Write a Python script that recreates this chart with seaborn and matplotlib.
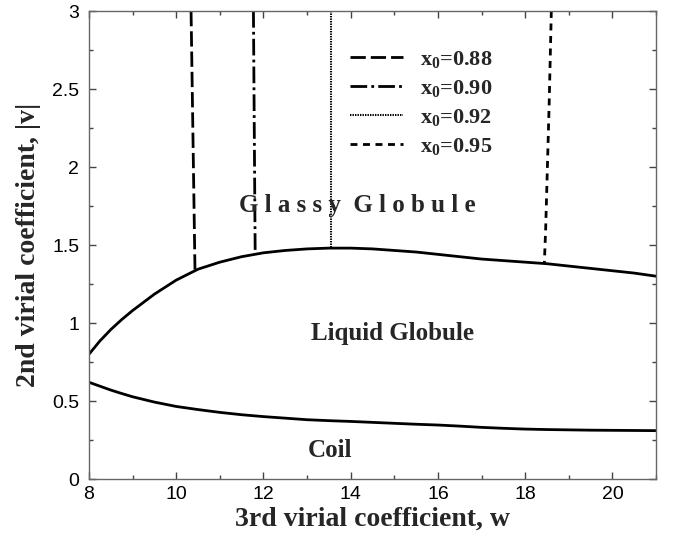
import numpy as np
import pandas as pd
import matplotlib
matplotlib.use("Agg")
import matplotlib.pyplot as plt
import seaborn as sns

# ---------------- data ----------------
w_grid = [8.0, 8.25, 8.5, 8.75, 9.0, 9.5, 10.0, 10.5, 11.0, 11.5, 12.0, 12.5, 13.0, 13.5, 14.0,
          14.5, 15.0, 15.5, 16.0, 16.5, 17.0, 17.5, 18.0, 18.5, 19.0, 19.5, 20.0, 20.5, 21.0]
v_upper = [0.80, 0.885, 0.958, 1.022, 1.08, 1.185, 1.275, 1.345, 1.39, 1.425, 1.45, 1.465, 1.475, 1.48, 1.48,
           1.475, 1.465, 1.455, 1.44, 1.425, 1.41, 1.40, 1.39, 1.38, 1.365, 1.35, 1.335, 1.32, 1.30]
v_lower = [0.62, 0.595, 0.57, 0.548, 0.527, 0.493, 0.465, 0.445, 0.427, 0.412, 0.40, 0.39, 0.38, 0.374, 0.369,
           0.363, 0.357, 0.351, 0.346, 0.339, 0.331, 0.325, 0.32, 0.317, 0.315, 0.313, 0.312, 0.311, 0.31]

x0_labels = ["0.88", "0.90", "0.92", "0.95"]
glass_w = [[10.34, 10.43], [11.77, 11.81], [13.55, 13.55], [18.60, 18.55, 18.50, 18.47, 18.44]]
glass_v = [[3.0, 1.34], [3.0, 1.445], [3.0, 1.48], [3.0, 2.4, 1.9, 1.6, 1.383]]

x_ticks = [8, 10, 12, 14, 16, 18, 20]
y_ticks = [0, 0.5, 1, 1.5, 2, 2.5, 3]
y_tick_labels = ["0", "0.5", "1", "1.5", "2", "2.5", "3"]

region_labels = ["G l a s s y  G l o b u l e", "Liquid Globule", "Coil"]
region_pos = [(14.16, 1.756), (14.96, 0.93), (13.53, 0.18)]

# ---------------- style ----------------
sns.set_theme(style="ticks")
plt.rcParams["font.family"] = ["Liberation Serif", "DejaVu Serif"]
plt.rcParams["font.weight"] = "bold"
plt.rcParams["mathtext.fontset"] = "custom"
plt.rcParams["mathtext.rm"] = "Liberation Serif:bold"
plt.rcParams["mathtext.it"] = "Liberation Serif:bold"
plt.rcParams["mathtext.bf"] = "Liberation Serif:bold"
plt.rcParams["mathtext.default"] = "rm"
plt.rcParams["lines.scale_dashes"] = False

fig = plt.figure(figsize=(6.73, 5.37), dpi=100)
ax = fig.add_axes([89 / 673, (537 - 479) / 537, (656 - 89) / 673, (479 - 11) / 537])

df_up = pd.DataFrame({"w": w_grid, "v": v_upper})
df_lo = pd.DataFrame({"w": w_grid, "v": v_lower})
sns.lineplot(data=df_up, x="w", y="v", ax=ax, color="black", linewidth=2.0, sort=False, estimator=None)
sns.lineplot(data=df_lo, x="w", y="v", ax=ax, color="black", linewidth=2.0, sort=False, estimator=None)

styles = [((0, (11, 3.6)), 2.0), ((0, (12, 3, 2, 3)), 2.0), ((0, (1.0, 0.8)), 1.5), ((0, (5, 4)), 2.0)]
handles = []
for lab, ws, vs, (ls, lw) in zip(x0_labels, glass_w, glass_v, styles):
    d = pd.DataFrame({"w": ws, "v": vs})
    sns.lineplot(data=d, x="w", y="v", ax=ax, color="black", linewidth=lw, sort=False, estimator=None)
    ln = ax.lines[-1]
    ln.set_linestyle(ls)
    ln.set_dash_capstyle("butt")
    ln.set_label("x$_0$=" + lab)
    handles.append(ln)

ax.set_xlim(8, 21)
ax.set_ylim(0, 3)
ax.set_xticks(x_ticks)
ax.set_xticks(np.arange(9, 22, 2), minor=True)
ax.set_yticks(y_ticks)
ax.set_yticklabels(y_tick_labels)
ax.set_yticks(np.arange(0.25, 3, 0.5), minor=True)

for sp in ax.spines.values():
    sp.set_color("#666666")
    sp.set_linewidth(1.0)
    sp.set_visible(True)

ax.tick_params(which="both", direction="in", top=True, right=True, color="#444444")
ax.tick_params(which="major", length=5, width=1)
ax.tick_params(which="minor", length=3, width=1)
ax.tick_params(axis="y", which="major", pad=7)
ax.tick_params(axis="x", which="major", pad=5)
for t in ax.get_xticklabels() + ax.get_yticklabels():
    t.set_fontfamily("Liberation Sans")
    t.set_fontweight("normal")
    t.set_fontsize(14)
    t.set_color("black")

ax.set_xlabel("3rd virial coefficient, w", fontsize=20, fontweight="bold", labelpad=3)
ax.set_ylabel("2nd virial coefficient, |v|", fontsize=20, fontweight="bold", labelpad=8)

for txt, (xx, yy) in zip(region_labels, region_pos):
    ax.text(xx, yy, txt, fontsize=18, fontweight="bold", ha="center", va="center")

leg = ax.legend(handles=handles, loc="upper left", bbox_to_anchor=((350 - 89) / 567, (479 - 49) / 468),
                frameon=False, fontsize=16, handlelength=2.4, handletextpad=0.75,
                labelspacing=0.36, borderpad=0, borderaxespad=0)

fig.savefig("out.png", dpi=100)
